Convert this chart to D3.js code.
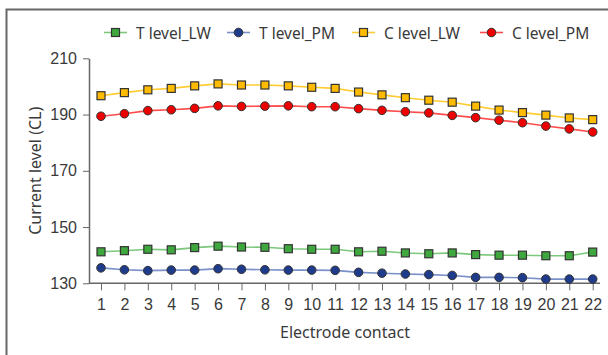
<!DOCTYPE html>
<html>
<head>
<meta charset="utf-8">
<script src="https://cdn.jsdelivr.net/npm/d3@7"></script>
<style>
  body { margin: 0; background: #fff; }
  svg { display: block; font-family: "Noto Sans", "DejaVu Sans", sans-serif; }
  .axis path, .axis line { stroke: #666; }
  .axis text { fill: #3a3a3a; font-size: 16px; }
</style>
</head>
<body>
<div id="chart"></div>
<script>
  var electrodes = d3.range(1, 23);
  var yTicks = [130, 150, 170, 190, 210];

  var tLevelLW = [141.2, 141.6, 142.1, 141.9, 142.7, 143.2, 142.9, 142.8, 142.3, 142.1, 142.1,
                  141.2, 141.4, 140.8, 140.5, 140.8, 140.2, 140.0, 140.0, 139.8, 139.8, 141.1];
  var tLevelPM = [135.5, 134.8, 134.5, 134.7, 134.7, 135.2, 135.0, 134.8, 134.7, 134.7, 134.6,
                  133.9, 133.6, 133.3, 133.1, 132.8, 132.1, 132.1, 132.0, 131.5, 131.5, 131.5];
  var cLevelLW = [196.7, 197.8, 198.8, 199.3, 200.2, 200.9, 200.5, 200.5, 200.2, 199.7, 199.3,
                  198.0, 197.0, 196.0, 195.1, 194.4, 193.0, 191.6, 190.7, 189.8, 188.8, 188.2];
  var cLevelPM = [189.4, 190.3, 191.4, 191.7, 192.2, 193.1, 192.9, 193.0, 193.1, 192.8, 192.8,
                  192.1, 191.5, 191.0, 190.6, 189.7, 188.9, 188.0, 187.1, 185.9, 184.9, 183.8];

  var series = [
    { name: "T level_LW", values: tLevelLW, line: "#7cc87c", fill: "#3ea83e", shape: "square" },
    { name: "T level_PM", values: tLevelPM, line: "#7a90c8", fill: "#1f3b8c", shape: "circle" },
    { name: "C level_LW", values: cLevelLW, line: "#ffcc33", fill: "#ffbb00", shape: "square" },
    { name: "C level_PM", values: cLevelPM, line: "#ff4d4d", fill: "#ee0000", shape: "circle" }
  ];

  var W = 608, H = 355;
  var svg = d3.select("#chart").append("svg")
      .attr("width", W)
      .attr("height", H);

  // outer frame (only top and left edges are visible in the crop)
  svg.append("rect")
      .attr("x", 6.5).attr("y", 9.5)
      .attr("width", 640).attr("height", 400)
      .attr("fill", "none")
      .attr("stroke", "#666")
      .attr("stroke-width", 2);

  var xScale = d3.scaleLinear().domain([1, 22]).range([101, 592.7]);
  var yScale = d3.scaleLinear().domain([130, 210]).range([283.3, 58.3]);

  // y axis
  var yAxis = d3.axisLeft(yScale).tickValues(yTicks).tickSize(6).tickSizeOuter(0).tickPadding(6);
  var gy = svg.append("g")
      .attr("class", "axis")
      .attr("transform", "translate(89,0)")
      .call(yAxis);
  gy.select(".domain").attr("stroke-width", 1.5);

  // x axis
  var xAxis = d3.axisBottom(xScale).tickValues(electrodes).tickSize(7).tickSizeOuter(0).tickPadding(8)
      .tickFormat(d3.format("d"));
  var gx = svg.append("g")
      .attr("class", "axis")
      .attr("transform", "translate(0,283.3)")
      .call(xAxis);
  gx.select(".domain").remove();
  gx.append("line")
      .attr("x1", 89).attr("x2", 600)
      .attr("stroke", "#777").attr("stroke-width", 1.5);
  gx.selectAll(".tick line").attr("stroke", "#444");
  gy.selectAll(".tick line").attr("stroke", "#444");

  // axis titles
  svg.append("text")
      .attr("transform", "translate(35," + ((58.3 + 283.3) / 2) + ") rotate(-90)")
      .attr("text-anchor", "middle")
      .attr("dominant-baseline", "central")
      .attr("fill", "#3a3a3a")
      .style("font-size", "16px")
      .text("Current level (CL)");

  svg.append("text")
      .attr("x", 345).attr("y", 338)
      .attr("text-anchor", "middle")
      .attr("fill", "#3a3a3a")
      .style("font-size", "16px")
      .text("Electrode contact");

  var line = d3.line()
      .x(function(d, i) { return xScale(electrodes[i]); })
      .y(function(d) { return yScale(d); });

  function drawMarker(g, s, x, y) {
    if (s.shape === "square") {
      g.append("rect")
          .attr("x", x - 4).attr("y", y - 4)
          .attr("width", 8).attr("height", 8)
          .attr("fill", s.fill)
          .attr("stroke", "#333").attr("stroke-width", 1.2);
    } else {
      g.append("circle")
          .attr("cx", x).attr("cy", y).attr("r", 4.3)
          .attr("fill", s.fill)
          .attr("stroke", "#333").attr("stroke-width", 1);
    }
  }

  series.forEach(function(s) {
    svg.append("path")
        .datum(s.values)
        .attr("fill", "none")
        .attr("stroke", s.line)
        .attr("stroke-width", 1.6)
        .attr("d", line);
    var g = svg.append("g");
    s.values.forEach(function(v, i) {
      drawMarker(g, s, xScale(electrodes[i]), yScale(v));
    });
  });

  // legend
  var legendX = [104, 227, 352, 480];
  series.forEach(function(s, i) {
    var g = svg.append("g").attr("transform", "translate(" + legendX[i] + ",32.5)");
    g.append("line")
        .attr("x1", 0).attr("x2", 23)
        .attr("stroke", s.line).attr("stroke-width", 1.6);
    drawMarker(g, s, 11.5, 0);
    g.append("text")
        .attr("x", 32).attr("y", 0)
        .attr("dominant-baseline", "central")
        .attr("fill", "#3a3a3a")
        .style("font-size", "15.5px")
        .text(s.name);
  });
</script>
</body>
</html>
